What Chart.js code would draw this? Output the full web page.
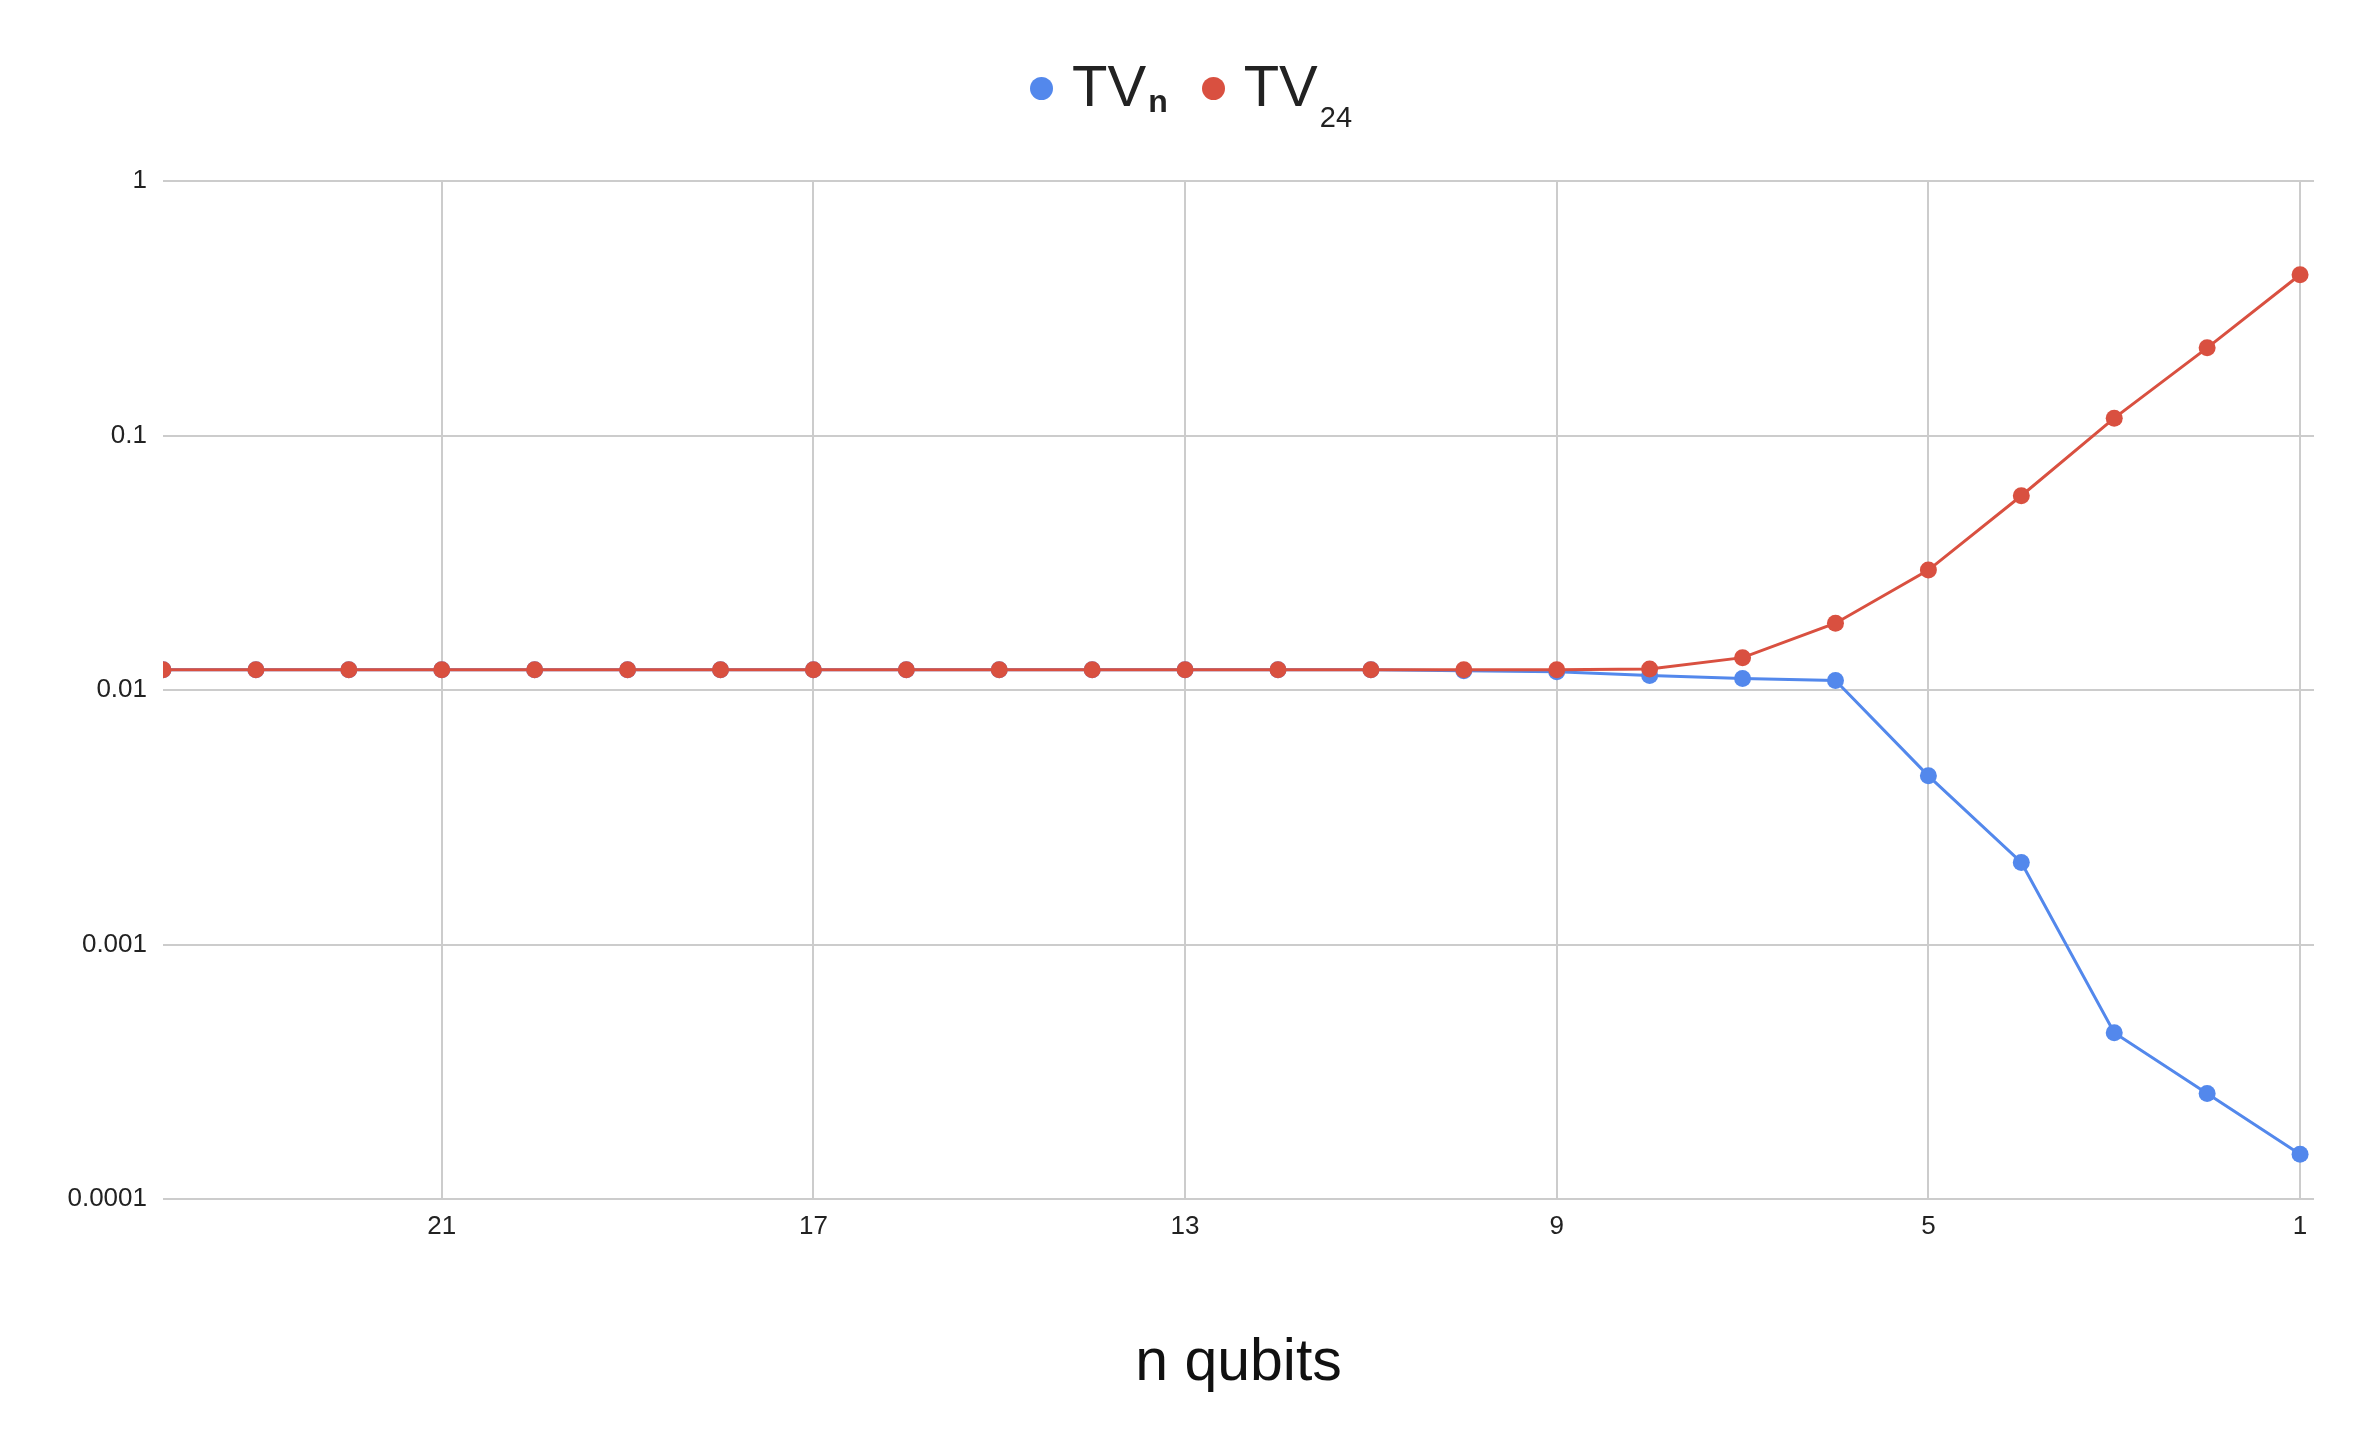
<!DOCTYPE html>
<html>
<head>
<meta charset="utf-8">
<script src="https://cdn.jsdelivr.net/npm/chart.js@4.4.1/dist/chart.umd.min.js"></script>
<style>
    html, body { margin: 0; padding: 0; background: #fff; }
    #wrap { position: relative; width: 2356px; height: 1438px; }
    #legend {
        position: absolute; left: 1030px; top: 57px;
        display: flex; align-items: baseline;
        font-family: 'Liberation Sans', Arial, sans-serif;
        font-size: 58px; line-height: 1; color: #222;
    }
    #legend .item { display: inline-flex; align-items: baseline; margin-right: 34px; }
    #legend .dot {
        display: inline-block; width: 23px; height: 23px; border-radius: 50%;
        vertical-align: 6px; margin-right: 19px; position: relative; top: -6px;
    }
    #legend .sub { position: relative; margin-left: 2px; }
</style>
</head>
<body>
<div id="wrap">
    <canvas id="chart"></canvas>
    <div id="legend"></div>
</div>
<script>
// qubits, plotted right to left
const nQubits = [24, 23, 22, 21, 20, 19, 18, 17, 16, 15, 14, 13, 12, 11, 10, 9, 8, 7, 6, 5, 4, 3, 2, 1];
const tvN  = [0.012, 0.012, 0.012, 0.012, 0.012, 0.012, 0.012, 0.012, 0.012, 0.012, 0.012, 0.012, 0.012, 0.012, 0.0119, 0.0118, 0.0114, 0.0111, 0.0109, 0.0046, 0.0021, 0.00045, 0.00026, 0.00015];
const tv24 = [0.012, 0.012, 0.012, 0.012, 0.012, 0.012, 0.012, 0.012, 0.012, 0.012, 0.012, 0.012, 0.012, 0.012, 0.012, 0.012, 0.0121, 0.0134, 0.0183, 0.0296, 0.058, 0.117, 0.221, 0.428];
const xTicks = [21, 17, 13, 9, 5, 1];
const yTicks = [0.0001, 0.001, 0.01, 0.1, 1];
const seriesNames = ['TV', 'TV'];
const seriesSubs = ['n', '24'];
const seriesColors = ['#5388EC', '#D95040'];
const axisTitle = 'n qubits';

Chart.defaults.font.family = "'Liberation Sans', Arial, sans-serif";
Chart.defaults.color = '#222';

const toPoints = (vals) => vals.map((v, i) => ({ x: nQubits[i], y: v }));

function lineDataset(i, vals, order) {
    return {
        label: seriesNames[i] + seriesSubs[i],
        data: toPoints(vals),
        borderColor: seriesColors[i],
        backgroundColor: seriesColors[i],
        borderWidth: 3,
        pointRadius: 8.5,
        pointBorderWidth: 0,
        pointHoverRadius: 8.5,
        tension: 0,
        order: order
    };
}

const gridColor = '#cccccc';

new Chart(document.getElementById('chart').getContext('2d'), {
    type: 'line',
    data: {
        datasets: [
            lineDataset(0, tvN, 1),
            lineDataset(1, tv24, 0)   // red on top
        ]
    },
    options: {
        responsive: true,
        maintainAspectRatio: false,
        animation: false,
        layout: { padding: { top: 181, right: 42, left: 0, bottom: 0 } },
        plugins: {
            legend: { display: false },
            tooltip: { enabled: false }
        },
        scales: {
            x: {
                type: 'linear',
                reverse: true,
                min: 0.85,
                max: 24,
                afterBuildTicks: (scale) => { scale.ticks = xTicks.map(v => ({ value: v })); },
                afterFit: (scale) => { scale.height = 239; },
                ticks: {
                    font: { size: 26 },
                    color: '#222',
                    padding: 12,
                    maxRotation: 0,
                    autoSkip: false,
                    callback: (v) => String(v)
                },
                grid: { color: gridColor, lineWidth: 2, drawTicks: false },
                border: { display: false },
                title: {
                    display: true,
                    text: axisTitle,
                    font: { size: 59 },
                    color: '#111',
                    padding: { top: 0, bottom: 39 }
                }
            },
            y: {
                type: 'logarithmic',
                min: 0.0001,
                max: 1,
                afterBuildTicks: (scale) => { scale.ticks = yTicks.map(v => ({ value: v })); },
                afterFit: (scale) => { scale.width = 163; },
                ticks: {
                    font: { size: 26 },
                    color: '#222',
                    padding: 16,
                    autoSkip: false,
                    callback: (v) => String(v)
                },
                grid: { color: gridColor, lineWidth: 2, drawTicks: false },
                border: { display: false }
            }
        }
    }
});

// legend with subscripts, built from the series names
const legend = document.getElementById('legend');
const subStyle = [{ size: 32, drop: 6 }, { size: 29, drop: 21 }];
seriesNames.forEach((name, i) => {
    const item = document.createElement('span');
    item.className = 'item';
    const dot = document.createElement('span');
    dot.className = 'dot';
    dot.style.background = seriesColors[i];
    const txt = document.createElement('span');
    txt.textContent = name;
    const sub = document.createElement('span');
    sub.className = 'sub';
    sub.textContent = seriesSubs[i];
    sub.style.fontSize = subStyle[i].size + 'px';
    sub.style.top = subStyle[i].drop + 'px';
    if (i === 0) sub.style.fontWeight = 'bold';
    item.appendChild(dot);
    item.appendChild(txt);
    item.appendChild(sub);
    legend.appendChild(item);
});
</script>
</body>
</html>
